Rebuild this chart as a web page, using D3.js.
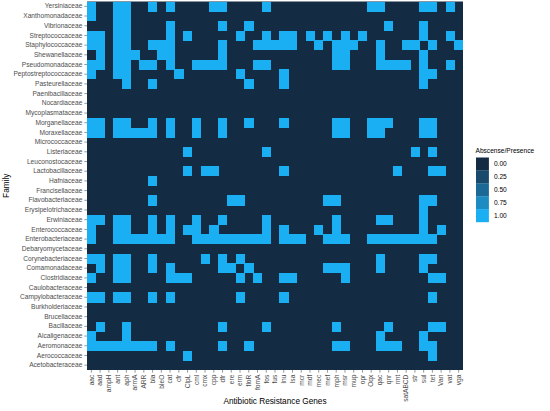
<!DOCTYPE html>
<meta charset="utf-8">
<style>
body { margin: 0; background: #fff; }
svg text { font-family: "Liberation Sans", Arial, sans-serif; }
.axis text { fill: #4d4d4d; font-size: 6.6px; }
.axis line { stroke: #333; stroke-width: 0.5; }
.axis path { display: none; }
.title { font-size: 8.25px; fill: #000; }
.legend text { font-size: 6.6px; fill: #000; }
.cell { shape-rendering: crispEdges; }
</style>
<svg width="550" height="411"></svg>
<script src="https://d3js.org/d3.v7.min.js"></script>
<script>

// families, top to bottom
var families = ["Yersiniaceae", "Xanthomonadaceae", "Vibrionaceae", "Streptococcaceae",
  "Staphylococcaceae", "Shewanellaceae", "Pseudomonadaceae", "Peptostreptococcaceae",
  "Pasteurellaceae", "Paenibacillaceae", "Nocardiaceae", "Mycoplasmataceae",
  "Morganellaceae", "Moraxellaceae", "Micrococcaceae", "Listeriaceae",
  "Leuconostocaceae", "Lactobacillaceae", "Hafniaceae", "Francisellaceae",
  "Flavobacteriaceae", "Erysipelotrichaceae", "Erwiniaceae", "Enterococcaceae",
  "Enterobacteriaceae", "Debaryomycetaceae", "Corynebacteriaceae", "Comamonadaceae",
  "Clostridiaceae", "Caulobacteraceae", "Campylobacteraceae", "Burkholderiaceae",
  "Brucellaceae", "Bacillaceae", "Alcaligenaceae", "Aeromonaceae",
  "Aerococcaceae", "Acetobacteraceae"];

var genes = ["aac", "aad", "ampH", "ant", "aph", "armA", "ARR", "bla", "bleO", "cat",
  "cfr", "ClpL", "cml", "cmx", "cpp", "dfr", "ere", "erm", "floR", "fomA", "fos",
  "fus", "lnu", "lsa", "mcr", "mdf", "mec", "mef", "mph", "msr", "mup", "opr",
  "Oqx", "qac", "qnr", "rmt", "satABCD", "str", "sul", "tet", "Van", "vat", "vga"];

// index of genes present (value 1) for each family, same order as families
var present = [
  [0,3,4,7,9,14,15,20,32,33,38,39,41],
  [0,3,4],
  [3,4,9,15,18,34,38],
  [0,1,3,4,9,11,17,20,22,23,25,27,29,31,38,41],
  [0,1,3,4,7,8,9,15,19,20,21,22,23,26,28,29,30,33,36,37,39,42],
  [1,3,4,5,8,9,15,28,29,33,38],
  [0,1,3,4,6,7,9,12,13,14,15,19,20,28,29,33,34,35,36,38,41],
  [0,3,4,10,17,22,38,39],
  [4,7,18,22,38],
  [],
  [],
  [],
  [0,1,3,4,7,9,12,15,18,22,28,29,32,33,34,38,39],
  [0,1,3,4,5,6,7,9,12,15,28,29,32,33,38,39],
  [],
  [11,20,37,39],
  [],
  [11,13,14,22,35,39,40],
  [7],
  [],
  [7,16,17,27,28,38,39],
  [38],
  [0,1,3,4,7,9,12,15,20,28,33,34,38],
  [0,3,4,7,9,11,12,14,20,22,26,28,38,40],
  [0,3,4,5,6,7,8,9,12,13,14,15,16,17,18,19,20,22,23,24,27,28,29,32,33,34,35,36,37,38,39],
  [],
  [0,1,3,4,7,13,15,17,33,38,39],
  [1,3,4,7,9,15,16,18,27,28,29,33,38],
  [0,3,4,9,10,11,17,19,22,23,29,39,40],
  [],
  [0,1,3,4,7,9,17,22,39],
  [],
  [],
  [1,4,15,20,28,34,39,40],
  [0,4,33,38],
  [0,1,2,3,4,5,6,7,9,15,18,28,29,33,34,35,38,39],
  [11,39],
  []
];

var legendValues = [0, 0.25, 0.5, 0.75, 1];

var svg = d3.select("svg"),
    margin = {top: 1.5, right: 87, bottom: 41, left: 87},
    width = +svg.attr("width") - margin.left - margin.right,
    height = +svg.attr("height") - margin.top - margin.bottom;

var g = svg.append("g")
    .attr("transform", "translate(" + margin.left + "," + margin.top + ")");

var x = d3.scaleBand().domain(genes).range([0, width]),
    y = d3.scaleBand().domain(families).range([0, height]);

var color = d3.scaleLinear().domain([0, 1])
    .range(["#132B43", "#1AAEF2"])
    .interpolate(d3.interpolateLab);

// build cells
var cells = [];
families.forEach(function(f, i) {
  genes.forEach(function(gn, j) {
    cells.push({family: f, gene: gn, value: present[i].indexOf(j) >= 0 ? 1 : 0});
  });
});

// dark background under the tiles so no seams show
g.append("rect")
    .attr("width", width)
    .attr("height", height)
    .attr("fill", color(0));

g.selectAll(".cell")
  .data(cells.filter(function(d) { return d.value > 0; }))
  .enter().append("rect")
    .attr("class", "cell")
    .attr("x", function(d) { return x(d.gene); })
    .attr("y", function(d) { return y(d.family); })
    .attr("width", x.bandwidth() + 0.4)
    .attr("height", y.bandwidth() + 0.4)
    .attr("fill", function(d) { return color(d.value); });

g.append("g")
    .attr("class", "axis")
    .call(d3.axisLeft(y).tickSize(2.7).tickPadding(2));

g.append("g")
    .attr("class", "axis")
    .attr("transform", "translate(0," + height + ")")
    .call(d3.axisBottom(x).tickSize(2.7).tickPadding(2))
  .selectAll("text")
    .attr("transform", "rotate(-90)")
    .attr("x", -4.7)
    .attr("y", 0)
    .attr("dy", "0.35em")
    .style("text-anchor", "end");

// axis titles
svg.append("text")
    .attr("class", "title")
    .attr("transform", "translate(9," + (margin.top + height / 2) + ") rotate(-90)")
    .style("text-anchor", "middle")
    .text("Family");

svg.append("text")
    .attr("class", "title")
    .attr("x", margin.left + width / 2)
    .attr("y", 404)
    .style("text-anchor", "middle")
    .text("Antibiotic Resistance Genes");

// legend
var key = 12.9;
var legend = svg.append("g")
    .attr("class", "legend")
    .attr("transform", "translate(476,157.5)");

legend.append("text")
    .attr("class", "title")
    .attr("x", -0.5)
    .attr("y", -5)
    .text("Abscense/Presence");

legend.selectAll("rect")
  .data(legendValues)
  .enter().append("rect")
    .attr("x", 0)
    .attr("y", function(d, i) { return i * key; })
    .attr("width", key)
    .attr("height", key + 0.2)
    .attr("fill", function(d) { return color(d); });

legend.selectAll(".lab")
  .data(legendValues)
  .enter().append("text")
    .attr("class", "lab")
    .attr("x", key + 5)
    .attr("y", function(d, i) { return i * key + key / 2; })
    .attr("dy", "0.35em")
    .text(function(d) { return d3.format(".2f")(d); });

</script>
